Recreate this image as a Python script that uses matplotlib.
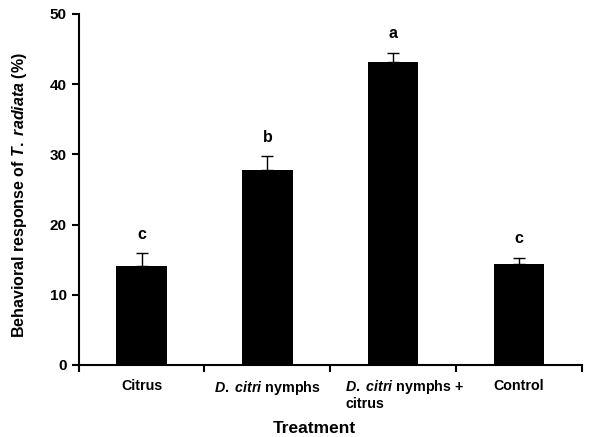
import matplotlib
matplotlib.use("Agg")
import matplotlib.pyplot as plt
import numpy as np

plt.rcParams["font.family"] = ["Liberation Sans", "DejaVu Sans"]
plt.rcParams["font.weight"] = "bold"
plt.rcParams["mathtext.fontset"] = "custom"
plt.rcParams["mathtext.rm"] = "Liberation Sans:bold"
plt.rcParams["mathtext.it"] = "Liberation Sans:italic:bold"
plt.rcParams["mathtext.bf"] = "Liberation Sans:bold"

categories = ["Citrus", r"$\it{D.}$ $\it{citri}$ nymphs",
              "$\\it{D.}$ $\\it{citri}$ nymphs +\ncitrus", "Control"]
means = [14.1, 27.8, 43.2, 14.4]
errors = [1.8, 2.0, 1.3, 0.9]
letters = ["c", "b", "a", "c"]

fig = plt.figure(figsize=(6.01, 4.37), dpi=100)
ax = fig.add_axes([0.131, 0.165, 0.837, 0.803])

x = np.arange(len(categories))
ax.bar(x, means, width=0.4, color="black", zorder=2)
ax.errorbar(x, means, yerr=[[0] * len(errors), errors], fmt="none",
            ecolor="black", elinewidth=1, capsize=4, capthick=1, zorder=3)
for xi, m, e, l in zip(x, means, errors, letters):
    ax.annotate(l, (xi, m + e), xytext=(0, 8), textcoords="offset points",
                ha="center", va="bottom", fontsize=11.5, fontweight="bold")

ax.set_xlim(-0.5, len(categories) - 0.5)
ax.set_ylim(0, 50)
ax.set_yticks(range(0, 51, 10))
ax.set_xticks(x)
# the two-line label sits left-aligned and a bit right of its centre, drawn separately
ticklabels = [c if i != 2 else "" for i, c in enumerate(categories)]
ax.set_xticklabels(ticklabels, fontsize=10.3, fontweight="bold")
ax.annotate(categories[2], xy=(x[2], 0), xycoords=("data", "axes fraction"),
            xytext=(-48, -13), textcoords="offset pixels", ha="left", va="top",
            fontsize=10.3, fontweight="bold", multialignment="left",
            linespacing=1.1)
ax.set_xticks(np.arange(-0.5, len(categories), 1.0), minor=True)
ax.tick_params(axis="x", which="major", length=0, pad=10)
ax.tick_params(axis="x", which="minor", length=5, width=1.5, direction="out")
ax.tick_params(axis="y", length=5, width=1.5, direction="out", labelsize=11)

for s in ["top", "right"]:
    ax.spines[s].set_visible(False)
for s in ["left", "bottom"]:
    ax.spines[s].set_linewidth(1.5)

ax.set_xlabel("Treatment", fontsize=12.5, fontweight="bold")
ax.xaxis.set_label_coords(0.469, -0.16)
ax.set_ylabel(r"Behavioral response of $\it{T.}$ $\it{radiata}$ (%)",
              fontsize=11.5, fontweight="bold")
ax.yaxis.set_label_coords(-0.099, 0.484)

fig.savefig("out.png", dpi=100)
